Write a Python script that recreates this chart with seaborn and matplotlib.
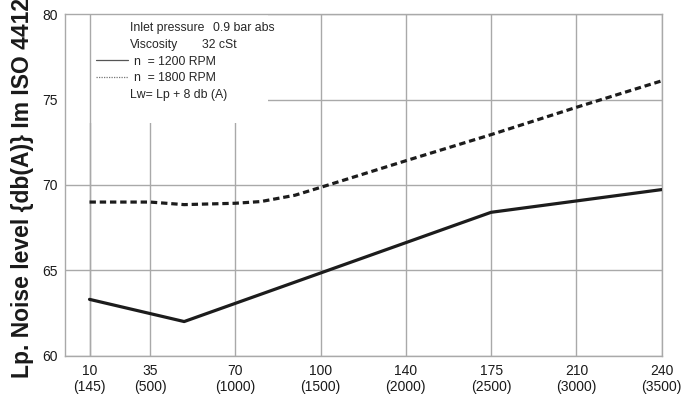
import pandas as pd
import matplotlib
matplotlib.use('Agg')
import matplotlib.pyplot as plt
from matplotlib.patches import Rectangle
from matplotlib.lines import Line2D
import seaborn as sns

# (x = pump speed in rpm, y = Lp in db(A))
rpm_1200 = [145, 700, 2500, 3500]
lp_1200 = [63.3, 62.0, 68.4, 69.73]

rpm_1800 = [145, 500, 700, 1000, 1150, 1350, 1500, 2000, 2500, 3000, 3500]
lp_1800 = [69.0, 69.0, 68.85, 68.93, 69.03, 69.4, 69.86, 71.42, 72.95, 74.55, 76.1]

x_ticks = [145, 500, 1000, 1500, 2000, 2500, 3000, 3500]
x_top = ['10', '35', '70', '100', '140', '175', '210', '240']
y_ticks = [60, 65, 70, 75, 80]

df1 = pd.DataFrame({'rpm': rpm_1200, 'lp': lp_1200})
df2 = pd.DataFrame({'rpm': rpm_1800, 'lp': lp_1800})

sns.set_theme(style='whitegrid')
plt.rcParams['font.family'] = ['Liberation Sans', 'DejaVu Sans']

fig = plt.figure(figsize=(6.9, 3.98), dpi=100)
ax = fig.add_axes([0.0939, 0.1063, 0.865, 0.8578])

grid_col = '#a9a9a9'
ax.grid(True, color=grid_col, linewidth=1.0)
for s in ax.spines.values():
    s.set_color(grid_col)
    s.set_linewidth(1.0)

# white box behind the notes hides part of the grid
ax.add_patch(Rectangle((0, 0.682), 0.340, 0.318, transform=ax.transAxes,
                       facecolor='white', edgecolor='none', zorder=1))
ax.axvline(x_ticks[0], color=grid_col, linewidth=1.0, zorder=1.2)

sns.lineplot(data=df1, x='rpm', y='lp', ax=ax, color='#1c1c1c',
             linewidth=2.3, zorder=3, sort=False)
sns.lineplot(data=df2, x='rpm', y='lp', ax=ax, color='#1c1c1c',
             linewidth=2.3, zorder=3, sort=False, dashes=False)
ax.lines[-1].set_dashes((2, 1.2))

ax.set_xlim(0, 3500)
ax.set_ylim(60, 80)
ax.set_xticks(x_ticks)
ax.set_xticklabels([f'{a}\n({b})' for a, b in zip(x_top, x_ticks)])
ax.set_yticks(y_ticks)
ax.tick_params(axis='both', length=0, labelsize=10, colors='#1a1a1a')
ax.tick_params(axis='x', pad=6)
ax.tick_params(axis='y', pad=5)
ax.set_xlabel('')
ax.set_ylabel('')

# notes block
fs = 8.8
ax.text(0.109, 0.960, 'Inlet pressure', transform=ax.transAxes, fontsize=fs, va='center', zorder=4)
ax.text(0.248, 0.960, '0.9 bar abs', transform=ax.transAxes, fontsize=fs, va='center', zorder=4)
ax.text(0.109, 0.910, 'Viscosity', transform=ax.transAxes, fontsize=fs, va='center', zorder=4)
ax.text(0.230, 0.910, '32 cSt', transform=ax.transAxes, fontsize=fs, va='center', zorder=4)
ax.text(0.109, 0.763, 'Lw= Lp + 8 db (A)', transform=ax.transAxes, fontsize=fs, va='center', zorder=4)

handles = [Line2D([], [], color='#555555', linewidth=0.9),
           Line2D([], [], color='#777777', linewidth=0.9, linestyle=(0, (1, 1)))]
leg = ax.legend(handles, ['n  = 1200 RPM', 'n  = 1800 RPM'], loc='upper left',
                bbox_to_anchor=(0.052, 0.879), frameon=False, fontsize=fs,
                handlelength=2.6, handletextpad=0.5, labelspacing=0.4,
                borderpad=0, borderaxespad=0)
leg.set_zorder(4)

fig.text(0.032, 0.05, 'Lp. Noise level {db(A)} Im ISO 4412', rotation=90,
         ha='center', va='bottom', fontsize=16.5, fontweight='bold', color='#1a1a1a')
fig.text(0.51, 1.0 + 4.0 / 398, '(ISO 4412)', ha='center', va='baseline',
         fontsize=15, fontweight='bold', color='#1a1a1a')

fig.savefig('out.png', dpi=100)
